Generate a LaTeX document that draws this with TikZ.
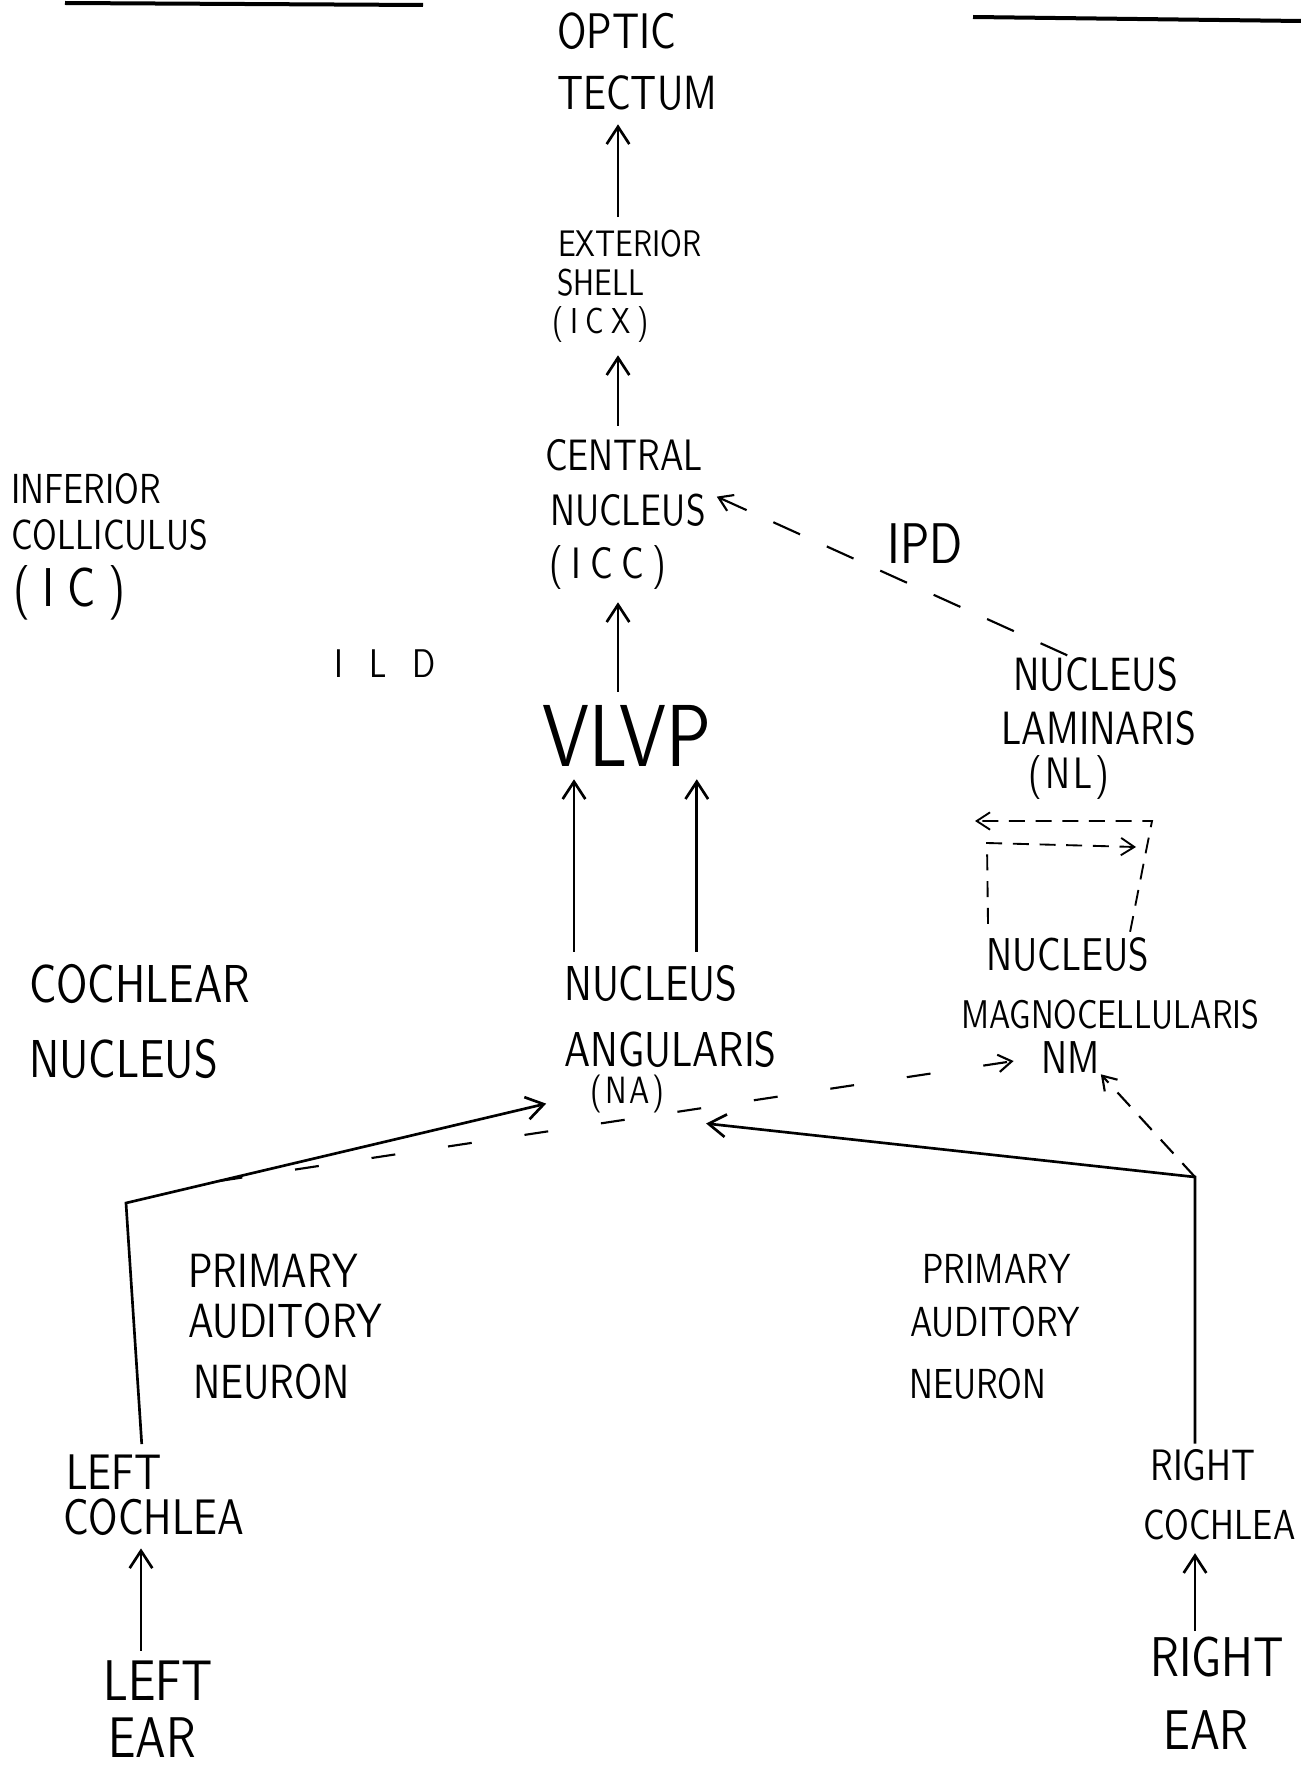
\documentclass[tikz,border=0pt]{standalone}
\usepackage{fontspec}
\usetikzlibrary{arrows.meta,calc}
\newfontfamily\handfont{lmsans10-regular.otf}[FakeStretch=0.8]
\newcommand\handsz[1]{\handfont\fontsize{#1}{#1}\selectfont}

\begin{document}
\begin{tikzpicture}[x=0.75pt,y=0.75pt,yscale=-1,xscale=1,
  txt/.style={anchor=base west,inner sep=0.75pt},
  arr/.style={line width=2pt,-{Straight Barb[length=13pt,width=17pt]},shorten <=9pt,shorten >=9pt},
  dsh/.style={line width=1.6pt,dash pattern=on 22pt off 22pt,-{Straight Barb[length=10pt,width=13pt]}},
  loopdsh/.style={line width=1.4pt,dash pattern=on 12pt off 8pt,-{Straight Barb[length=10pt,width=13pt]}}]
\useasboundingbox (0,0) rectangle (1301,1769);

%Straight Lines (top rules)
\draw [line width=3pt] (65,3) -- (423,5) ;
\draw [line width=3pt] (973,17) -- (1301,21) ;

% Text Node
\node (optic) [txt,font=\handsz{37.5}] at (556,49) {OPTIC};
% Text Node
\node (tectum) [txt,font=\handsz{36}] at (556,110) {TECTUM};
% Text Node
\node (exterior) [txt,font=\handsz{27.75}] at (557,257) {EXTERIOR};
% Text Node
\node (shell) [txt,font=\handsz{27.75}] at (556,296) {SHELL};
% Text Node
\node (icx) [txt,font=\handsz{27}\addfontfeature{LetterSpace=20}] at (551,333) {(ICX)};
% Text Node
\node (central) [txt,font=\handsz{33}] at (544,470) {CENTRAL};
% Text Node
\node (nucleusC) [txt,font=\handsz{33}] at (549,525) {NUCLEUS};
% Text Node
\node (icc) [txt,font=\handsz{33}\addfontfeature{LetterSpace=20}] at (548,578) {(ICC)};
% Text Node
\node (vlvp) [txt,font=\handsz{66}] at (541,766) {VLVP};
% Text Node
\node (nucleusA) [txt,font=\handsz{36.75}] at (563,1000) {NUCLEUS};
% Text Node
\node (angularis) [txt,font=\handsz{36.75}] at (563,1066) {ANGULARIS};
% Text Node
\node (na) [txt,font=\handsz{28.5}\addfontfeature{LetterSpace=8}] at (589,1103) {(NA)};
% Text Node
\node (inferior) [txt,font=\handsz{31.5}] at (10,503) {INFERIOR};
% Text Node
\node (colliculus) [txt,font=\handsz{31.5}] at (10,549) {COLLICULUS};
% Text Node
\node (ic) [txt,font=\handsz{41}\addfontfeature{LetterSpace=23}] at (12,606) {(IC)};
% Text Node
\node (ild) [txt,font=\handsz{30}\addfontfeature{LetterSpace=65}] at (333,677) {ILD};
% Text Node
\node (ipd) [txt,font=\handsz{43}] at (886,563) {IPD};
% Text Node
\node (nucleusL) [txt,font=\handsz{35}] at (1012,690) {NUCLEUS};
% Text Node
\node (laminaris) [txt,font=\handsz{35}] at (1000,744) {LAMINARIS};
% Text Node
\node (nl) [txt,font=\handsz{33}\addfontfeature{LetterSpace=7}] at (1027,788) {(NL)};
% Text Node
\node (nucleusM) [txt,font=\handsz{34.5}] at (985,970) {NUCLEUS};
% Text Node
\node (magno) [txt,font=\handsz{30}] at (960,1028) {MAGNOCELLULARIS};
% Text Node
\node (nm) [txt,font=\handsz{34.5}] at (1040,1073) {NM};
% Text Node
\node (cochlear) [txt,font=\handsz{40}] at (28,1002) {COCHLEAR};
% Text Node
\node (cnucleus) [txt,font=\handsz{40}] at (28,1077) {NUCLEUS};
% Text Node
\node (primaryL) [txt,font=\handsz{36}] at (187,1287) {PRIMARY};
% Text Node
\node (auditoryL) [txt,font=\handsz{36}] at (187,1337) {AUDITORY};
% Text Node
\node (neuronL) [txt,font=\handsz{36}] at (192,1398) {NEURON};
% Text Node
\node (primaryR) [txt,font=\handsz{31.5}] at (921,1283) {PRIMARY};
% Text Node
\node (auditoryR) [txt,font=\handsz{31.5}] at (909,1336) {AUDITORY};
% Text Node
\node (neuronR) [txt,font=\handsz{31.5}] at (908,1398) {NEURON};
% Text Node
\node (leftC) [txt,font=\handsz{37.5}] at (65,1489) {LEFT};
% Text Node
\node (cochleaL) [txt,font=\handsz{37.5}] at (62,1534) {COCHLEA};
% Text Node
\node (leftE) [txt,font=\handsz{43}] at (102,1700) {LEFT};
% Text Node
\node (earL) [txt,font=\handsz{43}] at (107,1757) {EAR};
% Text Node
\node (rightC) [txt,font=\handsz{33}] at (1149,1480) {RIGHT};
% Text Node
\node (cochleaR) [txt,font=\handsz{31.5}] at (1142,1539) {COCHLEA};
% Text Node
\node (rightE) [txt,font=\handsz{42}] at (1149,1676) {RIGHT};
% Text Node
\node (earR) [txt,font=\handsz{42}] at (1162,1749) {EAR};

%Straight Lines (main stem)
\coordinate (stem) at ($(tectum.south west)+(62,0)$);
\draw [arr] (exterior.north -| stem) -- (tectum.south -| stem) ;
\draw [arr] (central.north -| stem) -- (icx.south -| stem) ;
\draw [arr] (vlvp.north -| stem) -- (icc.south -| stem) ;
%Straight Lines (NA to VLVP)
\coordinate (naL) at ($(nucleusA.north west)+(11,0)$);
\coordinate (naR) at ($(vlvp.south east)+(-16,0)$);
\draw [arr] (naL) -- (naL |- vlvp.south) ;
\draw [arr] (naR |- nucleusA.north) -- (naR) ;
%Straight Lines (ears to cochleae)
\coordinate (lstem) at ($(leftE.north west)+(39,-8)$);
\coordinate (rstem) at ($(rightE.north west)+(46,-4)$);
\draw [arr,shorten <=0pt] (lstem) -- (lstem |- cochleaL.south) ;
\draw [arr,shorten <=0pt] (rstem) -- (rstem |- cochleaR.south) ;
%Straight Lines (primary auditory neurons)
\coordinate (lbend) at (126,1203);
\coordinate (rbend) at (1195,1177);
\draw [arr,shorten <=3pt,shorten >=33pt] ($(leftC.north west)+(77,-5)$) -- (lbend) -- (na.west) ;
\draw [arr,shorten <=3pt,shorten >=0pt] (rightC.north -| rbend) -- (rbend) -- ($(na.east)+(40,30)$) ;
%Dashed Lines
\draw [dsh,dash pattern=on 18pt off 40pt,shorten >=20pt] ($(lbend)!0.2!(na.west)$) -- (nm.west) ;
\draw [dsh,dash pattern=on 14pt off 10pt] (rbend) -- (nm.south east) ;
\draw [dsh,shorten >=8pt] ($(nucleusL.north west)!0.33!(nucleusL.north east)$) -- (nucleusC.north east) ;
%Dashed Lines (NM to NL loop)
\coordinate (loopR) at (1152,821);
\coordinate (loopRtip) at (975,821);
\coordinate (loopL) at (987,843);
\coordinate (loopLtip) at (1136,847);
\draw [loopdsh] ($(nucleusM.north east)+(-20,-4)$) -- (loopR) -- (loopRtip) ;
\draw [loopdsh] ($(nucleusM.north west)+(3,-12)$) -- (loopL) -- (loopLtip) ;

\end{tikzpicture}
\end{document}
